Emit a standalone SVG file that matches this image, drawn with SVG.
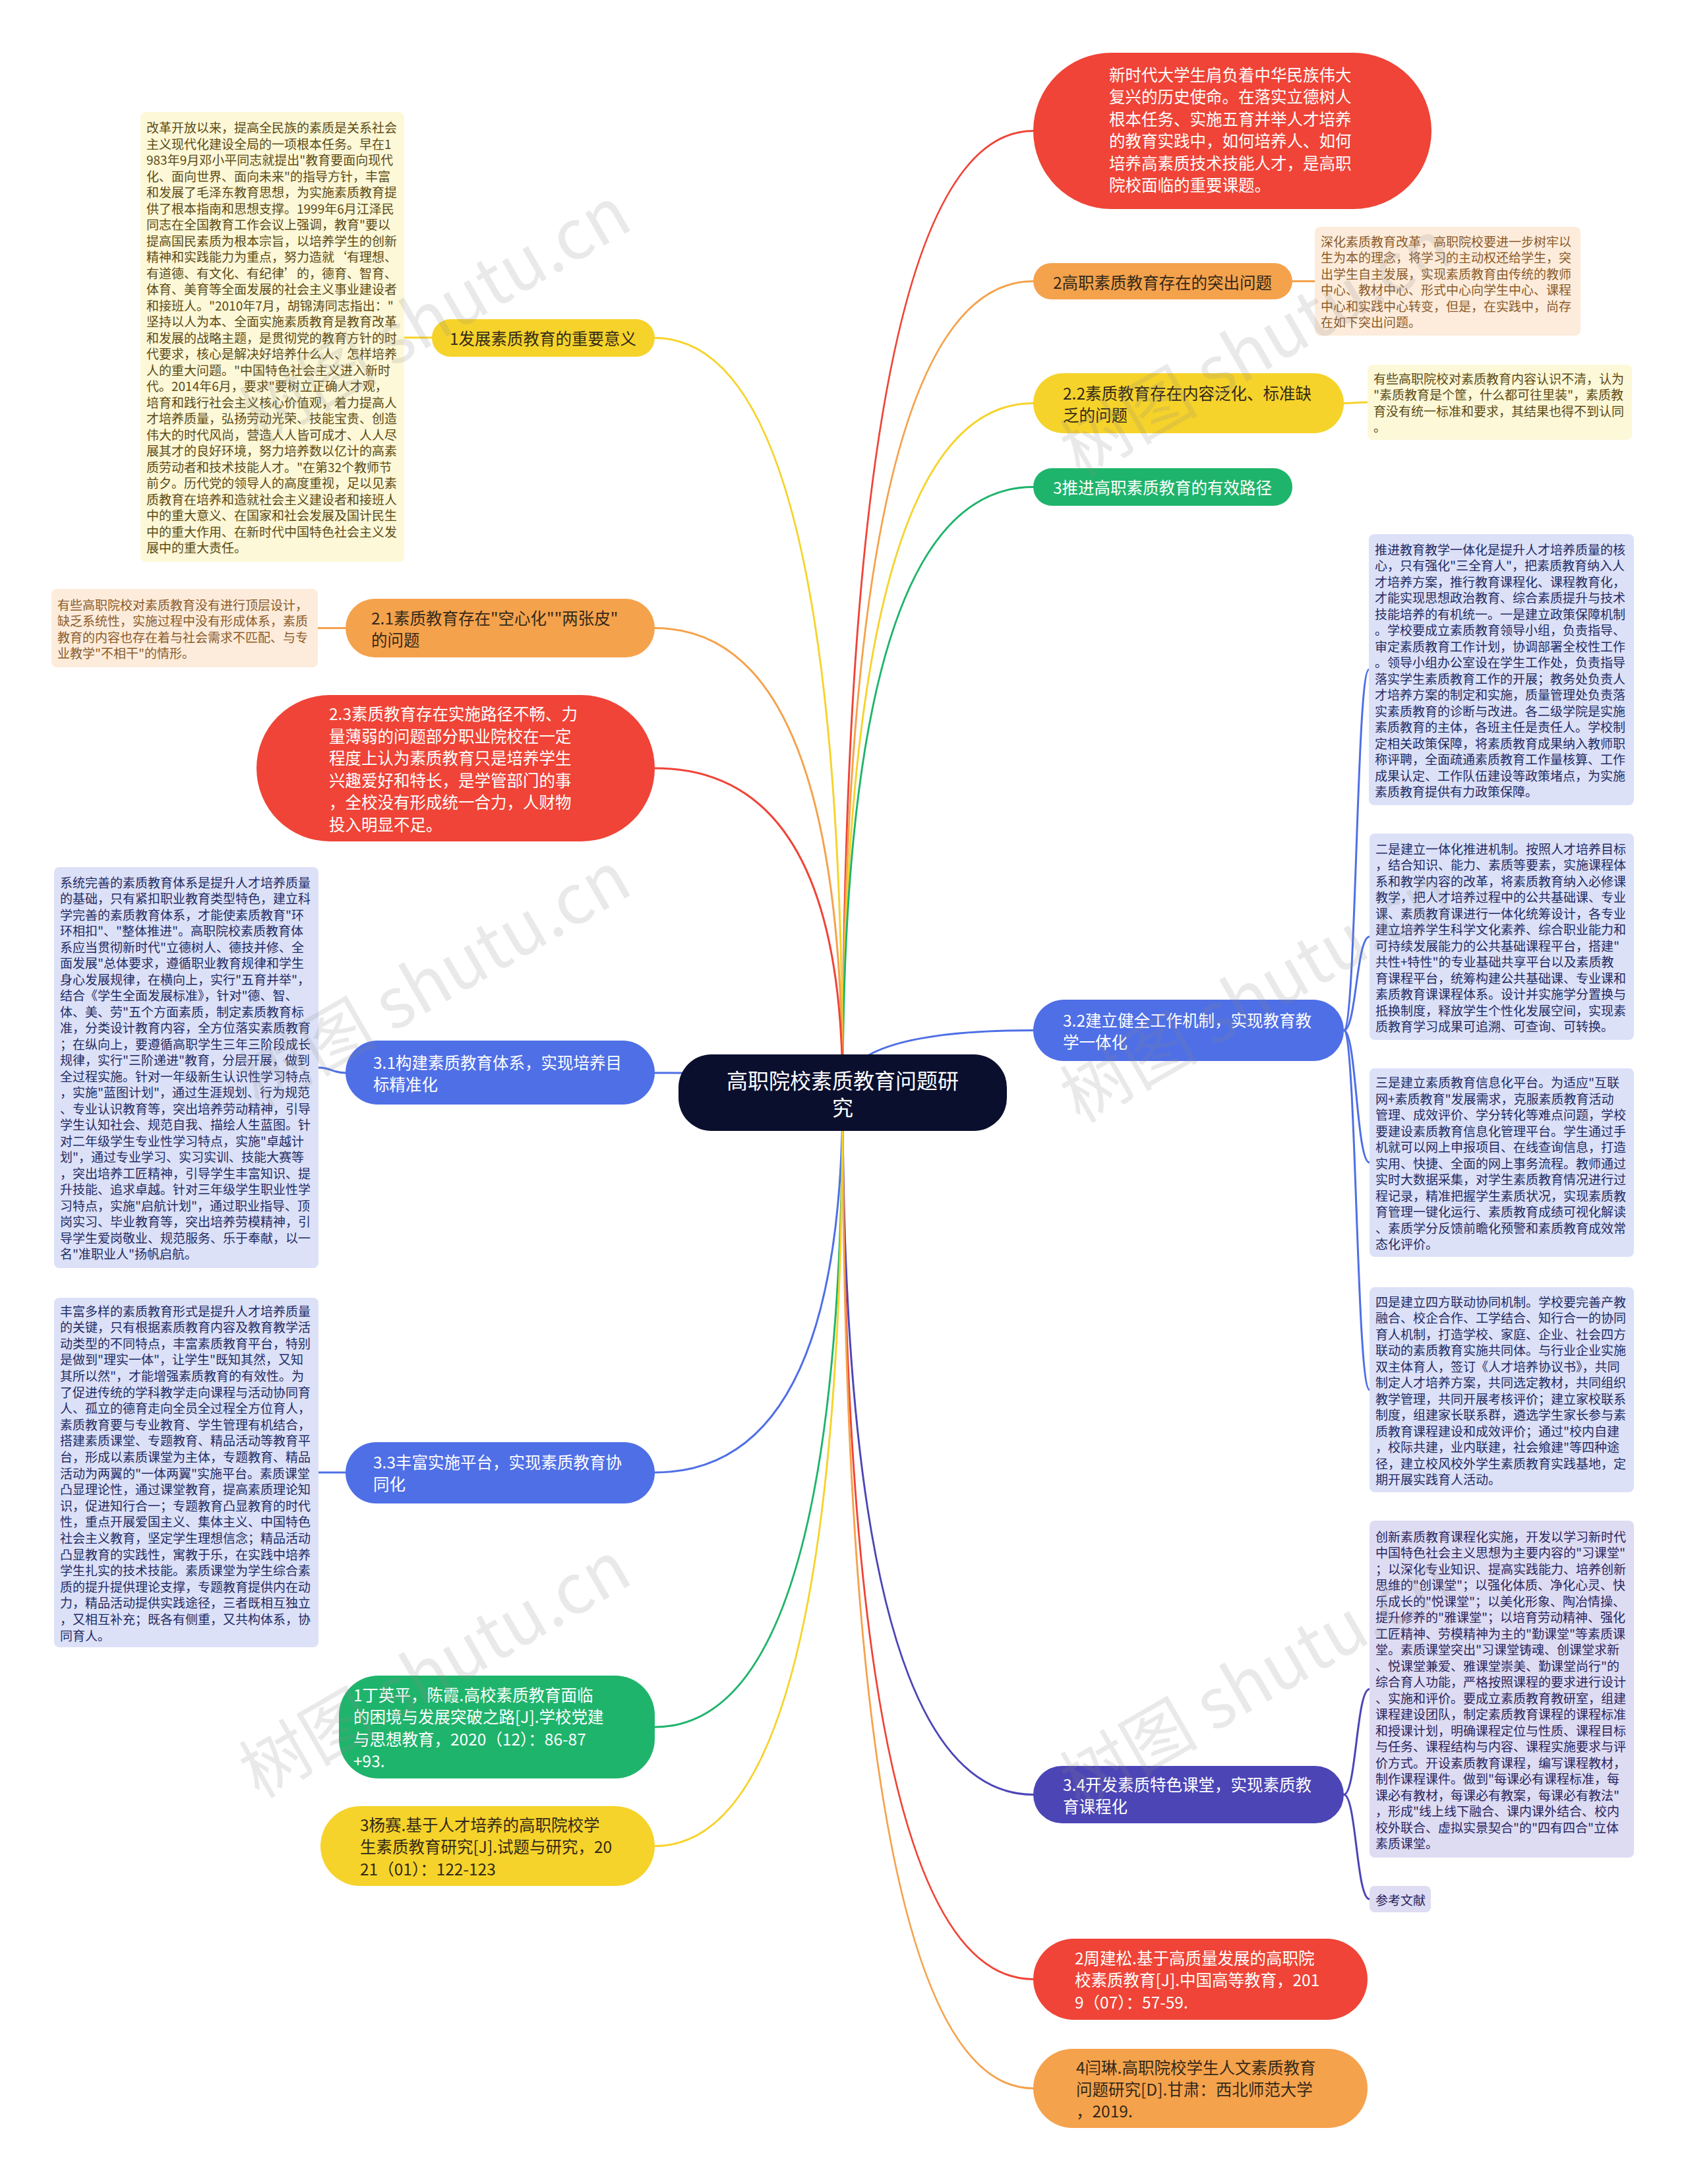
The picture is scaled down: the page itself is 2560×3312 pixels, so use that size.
<svg xmlns="http://www.w3.org/2000/svg" width="2560" height="3312" viewBox="0 0 2560 3312">
<style>
text{font-family:"Noto Sans CJK SC","Noto Sans",sans-serif;dominant-baseline:central}
.bt{font-size:19px}
.nt{font-size:24.5px}
.ct{font-size:32px;fill:#fff;text-anchor:middle}
.w{fill:#fff}
.dk{fill:#33291a}
.ty{fill:#5b4a14}
.tp{fill:#8a5a2a}
.tb{fill:#1f2a63}
.ti{fill:#29245f}
.c{fill:none;stroke-width:3;stroke-linecap:round}
.red{fill:#ef4437}.ora{fill:#f5a24c}.yel{fill:#f6d32a}.grn{fill:#1fb46c}.blu{fill:#4f6fe6}.ind{fill:#4c45b6}
.by{fill:#fdf8d8}.bp{fill:#fdecdb}.bb{fill:#dce1f8}.bi{fill:#dedcf2}
.sr{stroke:#ef4437}.so{stroke:#f5a24c}.sy{stroke:#f6d32a}.sg{stroke:#1fb46c}.sb{stroke:#4f6fe6}.si{stroke:#4c45b6}
.wm{font-size:105px;fill:#8a8a8a;opacity:0.18;font-family:"Noto Sans CJK SC",sans-serif}
</style>
<rect width="2560" height="3312" fill="#fff"/>

<g id="connectors">
<path class="c sr" d="M1278 1657 Q1278 198.5 1567 198.5"/>
<path class="c so" d="M1278 1657 Q1278 426.5 1567 426.5"/>
<path class="c sy" d="M1278 1657 Q1278 611.5 1567 611.5"/>
<path class="c sg" d="M1278 1657 Q1278 738.5 1567 738.5"/>
<path class="c sb" d="M1278 1657 Q1278 1562.5 1567 1562.5"/>
<path class="c si" d="M1278 1657 Q1278 2721.5 1567 2721.5"/>
<path class="c sr" d="M1278 1657 Q1278 3001.5 1567 3001.5"/>
<path class="c so" d="M1278 1657 Q1278 3167 1567 3167"/>
<path class="c sy" d="M1278 1657 Q1278 512.5 993 512.5"/>
<path class="c so" d="M1278 1657 Q1278 952.5 993 952.5"/>
<path class="c sr" d="M1278 1657 Q1278 1165 993 1165"/>
<path class="c sb" d="M1278 1657 Q1278 1627 993 1627"/>
<path class="c sb" d="M1278 1657 Q1278 2233 993 2233"/>
<path class="c sg" d="M1278 1657 Q1278 2619 993 2619"/>
<path class="c sy" d="M1278 1657 Q1278 2799.5 993 2799.5"/>
<path class="c sy" d="M655 512 L613 512"/>
<path class="c so" d="M524 952.5 L482 952.5"/>
<path class="c sb" d="M524 1627 C503 1627 503 1619 483 1619"/>
<path class="c sb" d="M524 2233 L483 2233"/>
<path class="c so" d="M1960 426.5 L1994 426.5"/>
<path class="c sy" d="M2038 611.5 C2056 611.5 2056 610 2074 610"/>
<path class="c sb" d="M2038 1562.5 C2057 1562.5 2057 1015.5 2076 1015.5"/>
<path class="c sb" d="M2038 1562.5 C2057 1562.5 2057 1420.5 2077 1420.5"/>
<path class="c sb" d="M2038 1562.5 C2057 1562.5 2057 1763 2077 1763"/>
<path class="c sb" d="M2038 1562.5 C2057 1562.5 2057 2107.5 2077 2107.5"/>
<path class="c si" d="M2038 2721.5 C2057 2721.5 2057 2561.5 2077 2561.5"/>
<path class="c si" d="M2038 2721.5 C2057 2721.5 2057 2880 2077 2880"/>
</g>

<g id="center">
<rect x="1029" y="1599" width="498" height="116" rx="50" fill="#0b0f2e"/>
<text class="ct" x="1278" y="1637">高职院校素质教育问题研</text>
<text class="ct" x="1278" y="1678">究</text>
</g>

<g id="node-r1">
<rect class="red" x="1567" y="80" width="604" height="237" rx="118.5"/>
<text class="nt w" x="1682" y="112">新时代大学生肩负着中华民族伟大</text>
<text class="nt w" x="1682" y="145.5">复兴的历史使命。在落实立德树人</text>
<text class="nt w" x="1682" y="179">根本任务、实施五育并举人才培养</text>
<text class="nt w" x="1682" y="212.5">的教育实践中，如何培养人、如何</text>
<text class="nt w" x="1682" y="246">培养高素质技术技能人才，是高职</text>
<text class="nt w" x="1682" y="279.5">院校面临的重要课题。</text>
</g>

<g id="node-r2">
<rect class="ora" x="1567" y="399" width="393" height="55" rx="27.5"/>
<text class="nt dk" x="1597" y="427">2高职素质教育存在的突出问题</text>
</g>
<g id="note-r2">
<rect class="bp" x="1994" y="344" width="403" height="165" rx="8"/>
<text class="bt tp" x="2003" y="365">深化素质教育改革，高职院校要进一步树牢以</text>
<text class="bt tp" x="2003" y="389.5">生为本的理念，将学习的主动权还给学生，突</text>
<text class="bt tp" x="2003" y="414">出学生自主发展，实现素质教育由传统的教师</text>
<text class="bt tp" x="2003" y="438.5">中心、教材中心、形式中心向学生中心、课程</text>
<text class="bt tp" x="2003" y="463">中心和实践中心转变，但是，在实践中，尚存</text>
<text class="bt tp" x="2003" y="487.5">在如下突出问题。</text>
</g>

<g id="node-r3">
<rect class="yel" x="1567" y="566" width="471" height="91" rx="45.5"/>
<text class="nt dk" x="1612" y="595">2.2素质教育存在内容泛化、标准缺</text>
<text class="nt dk" x="1612" y="628">乏的问题</text>
</g>
<g id="note-r3">
<rect class="by" x="2074" y="553" width="401" height="114" rx="8"/>
<text class="bt ty" x="2083" y="573">有些高职院校对素质教育内容认识不清，认为</text>
<text class="bt ty" x="2083" y="597.5">"素质教育是个筐，什么都可往里装"，素质教</text>
<text class="bt ty" x="2083" y="622">育没有统一标准和要求，其结果也得不到认同</text>
<text class="bt ty" x="2083" y="646.5">。</text>
</g>

<g id="node-r4">
<rect class="grn" x="1567" y="710" width="393" height="57" rx="28.5"/>
<text class="nt w" x="1597" y="738.5">3推进高职素质教育的有效路径</text>
</g>

<g id="node-r5">
<rect class="blu" x="1567" y="1516" width="471" height="93" rx="46.5"/>
<text class="nt w" x="1612" y="1546">3.2建立健全工作机制，实现教育教</text>
<text class="nt w" x="1612" y="1579">学一体化</text>
</g>
<g id="note-a">
<rect class="bb" x="2076" y="810" width="402" height="411" rx="8"/>
<text class="bt tb" x="2085" y="832">推进教育教学一体化是提升人才培养质量的核</text>
<text class="bt tb" x="2085" y="856.5">心，只有强化"三全育人"，把素质教育纳入人</text>
<text class="bt tb" x="2085" y="881">才培养方案，推行教育课程化、课程教育化，</text>
<text class="bt tb" x="2085" y="905.5">才能实现思想政治教育、综合素质提升与技术</text>
<text class="bt tb" x="2085" y="930">技能培养的有机统一。一是建立政策保障机制</text>
<text class="bt tb" x="2085" y="954.5">。学校要成立素质教育领导小组，负责指导、</text>
<text class="bt tb" x="2085" y="979">审定素质教育工作计划，协调部署全校性工作</text>
<text class="bt tb" x="2085" y="1003.5">。领导小组办公室设在学生工作处，负责指导</text>
<text class="bt tb" x="2085" y="1028">落实学生素质教育工作的开展；教务处负责人</text>
<text class="bt tb" x="2085" y="1052.5">才培养方案的制定和实施，质量管理处负责落</text>
<text class="bt tb" x="2085" y="1077">实素质教育的诊断与改进。各二级学院是实施</text>
<text class="bt tb" x="2085" y="1101.5">素质教育的主体，各班主任是责任人。学校制</text>
<text class="bt tb" x="2085" y="1126">定相关政策保障，将素质教育成果纳入教师职</text>
<text class="bt tb" x="2085" y="1150.5">称评聘，全面疏通素质教育工作量核算、工作</text>
<text class="bt tb" x="2085" y="1175">成果认定、工作队伍建设等政策堵点，为实施</text>
<text class="bt tb" x="2085" y="1199.5">素质教育提供有力政策保障。</text>
</g>
<g id="note-b">
<rect class="bb" x="2077" y="1264" width="401" height="313" rx="8"/>
<text class="bt tb" x="2086" y="1286">二是建立一体化推进机制。按照人才培养目标</text>
<text class="bt tb" x="2086" y="1310.5">，结合知识、能力、素质等要素，实施课程体</text>
<text class="bt tb" x="2086" y="1335">系和教学内容的改革，将素质教育纳入必修课</text>
<text class="bt tb" x="2086" y="1359.5">教学，把人才培养过程中的公共基础课、专业</text>
<text class="bt tb" x="2086" y="1384">课、素质教育课进行一体化统筹设计，各专业</text>
<text class="bt tb" x="2086" y="1408.5">建立培养学生科学文化素养、综合职业能力和</text>
<text class="bt tb" x="2086" y="1433">可持续发展能力的公共基础课程平台，搭建"</text>
<text class="bt tb" x="2086" y="1457.5">共性+特性"的专业基础共享平台以及素质教</text>
<text class="bt tb" x="2086" y="1482">育课程平台，统筹构建公共基础课、专业课和</text>
<text class="bt tb" x="2086" y="1506.5">素质教育课课程体系。设计并实施学分置换与</text>
<text class="bt tb" x="2086" y="1531">抵换制度，释放学生个性化发展空间，实现素</text>
<text class="bt tb" x="2086" y="1555.5">质教育学习成果可追溯、可查询、可转换。</text>
</g>
<g id="note-c">
<rect class="bb" x="2077" y="1620" width="401" height="286" rx="8"/>
<text class="bt tb" x="2086" y="1640.5">三是建立素质教育信息化平台。为适应"互联</text>
<text class="bt tb" x="2086" y="1665">网+素质教育"发展需求，克服素质教育活动</text>
<text class="bt tb" x="2086" y="1689.5">管理、成效评价、学分转化等难点问题，学校</text>
<text class="bt tb" x="2086" y="1714">要建设素质教育信息化管理平台。学生通过手</text>
<text class="bt tb" x="2086" y="1738.5">机就可以网上申报项目、在线查询信息，打造</text>
<text class="bt tb" x="2086" y="1763">实用、快捷、全面的网上事务流程。教师通过</text>
<text class="bt tb" x="2086" y="1787.5">实时大数据采集，对学生素质教育情况进行过</text>
<text class="bt tb" x="2086" y="1812">程记录，精准把握学生素质状况，实现素质教</text>
<text class="bt tb" x="2086" y="1836.5">育管理一键化运行、素质教育成绩可视化解读</text>
<text class="bt tb" x="2086" y="1861">、素质学分反馈前瞻化预警和素质教育成效常</text>
<text class="bt tb" x="2086" y="1885.5">态化评价。</text>
</g>
<g id="note-d">
<rect class="bb" x="2077" y="1952" width="401" height="311" rx="8"/>
<text class="bt tb" x="2086" y="1973">四是建立四方联动协同机制。学校要完善产教</text>
<text class="bt tb" x="2086" y="1997.5">融合、校企合作、工学结合、知行合一的协同</text>
<text class="bt tb" x="2086" y="2022">育人机制，打造学校、家庭、企业、社会四方</text>
<text class="bt tb" x="2086" y="2046.5">联动的素质教育实施共同体。与行业企业实施</text>
<text class="bt tb" x="2086" y="2071">双主体育人，签订《人才培养协议书》，共同</text>
<text class="bt tb" x="2086" y="2095.5">制定人才培养方案，共同选定教材，共同组织</text>
<text class="bt tb" x="2086" y="2120">教学管理，共同开展考核评价；建立家校联系</text>
<text class="bt tb" x="2086" y="2144.5">制度，组建家长联系群，遴选学生家长参与素</text>
<text class="bt tb" x="2086" y="2169">质教育课程建设和成效评价；通过"校内自建</text>
<text class="bt tb" x="2086" y="2193.5">，校际共建，业内联建，社会飨建"等四种途</text>
<text class="bt tb" x="2086" y="2218">径，建立校风校外学生素质教育实践基地，定</text>
<text class="bt tb" x="2086" y="2242.5">期开展实践育人活动。</text>
</g>

<g id="node-r6">
<rect class="ind" x="1567" y="2678" width="471" height="87" rx="43.5"/>
<text class="nt w" x="1612" y="2705">3.4开发素质特色课堂，实现素质教</text>
<text class="nt w" x="1612" y="2738">育课程化</text>
</g>
<g id="note-e">
<rect class="bi" x="2077" y="2306" width="401" height="511" rx="8"/>
<text class="bt ti" x="2086" y="2329">创新素质教育课程化实施，开发以学习新时代</text>
<text class="bt ti" x="2086" y="2353.5">中国特色社会主义思想为主要内容的"习课堂"</text>
<text class="bt ti" x="2086" y="2378">；以深化专业知识、提高实践能力、培养创新</text>
<text class="bt ti" x="2086" y="2402.5">思维的"创课堂"；以强化体质、净化心灵、快</text>
<text class="bt ti" x="2086" y="2427">乐成长的"悦课堂"；以美化形象、陶冶情操、</text>
<text class="bt ti" x="2086" y="2451.5">提升修养的"雅课堂"；以培育劳动精神、强化</text>
<text class="bt ti" x="2086" y="2476">工匠精神、劳模精神为主的"勤课堂"等素质课</text>
<text class="bt ti" x="2086" y="2500.5">堂。素质课堂突出"习课堂铸魂、创课堂求新</text>
<text class="bt ti" x="2086" y="2525">、悦课堂兼爱、雅课堂崇美、勤课堂尚行"的</text>
<text class="bt ti" x="2086" y="2549.5">综合育人功能，严格按照课程的要求进行设计</text>
<text class="bt ti" x="2086" y="2574">、实施和评价。要成立素质教育教研室，组建</text>
<text class="bt ti" x="2086" y="2598.5">课程建设团队，制定素质教育课程的课程标准</text>
<text class="bt ti" x="2086" y="2623">和授课计划，明确课程定位与性质、课程目标</text>
<text class="bt ti" x="2086" y="2647.5">与任务、课程结构与内容、课程实施要求与评</text>
<text class="bt ti" x="2086" y="2672">价方式。开设素质教育课程，编写课程教材，</text>
<text class="bt ti" x="2086" y="2696.5">制作课程课件。做到"每课必有课程标准，每</text>
<text class="bt ti" x="2086" y="2721">课必有教材，每课必有教案，每课必有教法"</text>
<text class="bt ti" x="2086" y="2745.5">，形成"线上线下融合、课内课外结合、校内</text>
<text class="bt ti" x="2086" y="2770">校外联合、虚拟实景契合"的"四有四合"立体</text>
<text class="bt ti" x="2086" y="2794.5">素质课堂。</text>
</g>
<g id="note-ref">
<rect class="bi" x="2077" y="2860" width="93" height="40" rx="8"/>
<text class="bt ti" x="2086" y="2880">参考文献</text>
</g>

<g id="node-r7">
<rect class="red" x="1567" y="2940" width="507" height="123" rx="61.5"/>
<text class="nt w" x="1630" y="2968">2周建松.基于高质量发展的高职院</text>
<text class="nt w" x="1630" y="3001.5">校素质教育[J].中国高等教育，201</text>
<text class="nt w" x="1630" y="3035">9（07）：57-59.</text>
</g>
<g id="node-r8">
<rect class="ora" x="1567" y="3107" width="507" height="120" rx="60"/>
<text class="nt dk" x="1632" y="3134">4闫琳.高职院校学生人文素质教育</text>
<text class="nt dk" x="1632" y="3167">问题研究[D].甘肃：西北师范大学</text>
<text class="nt dk" x="1632" y="3200">，2019.</text>
</g>

<g id="node-l1">
<rect class="yel" x="655" y="484" width="338" height="57" rx="28.5"/>
<text class="nt dk" x="682" y="512.5">1发展素质教育的重要意义</text>
</g>
<g id="note-l1">
<rect class="by" x="213" y="170" width="400" height="682" rx="8"/>
<text class="bt ty" x="222" y="192.5">改革开放以来，提高全民族的素质是关系社会</text>
<text class="bt ty" x="222" y="217">主义现代化建设全局的一项根本任务。早在1</text>
<text class="bt ty" x="222" y="241.5">983年9月邓小平同志就提出"教育要面向现代</text>
<text class="bt ty" x="222" y="266">化、面向世界、面向未来"的指导方针，丰富</text>
<text class="bt ty" x="222" y="290.5">和发展了毛泽东教育思想，为实施素质教育提</text>
<text class="bt ty" x="222" y="315">供了根本指南和思想支撑。1999年6月江泽民</text>
<text class="bt ty" x="222" y="339.5">同志在全国教育工作会议上强调，教育"要以</text>
<text class="bt ty" x="222" y="364">提高国民素质为根本宗旨，以培养学生的创新</text>
<text class="bt ty" x="222" y="388.5">精神和实践能力为重点，努力造就‘有理想、</text>
<text class="bt ty" x="222" y="413">有道德、有文化、有纪律’的，德育、智育、</text>
<text class="bt ty" x="222" y="437.5">体育、美育等全面发展的社会主义事业建设者</text>
<text class="bt ty" x="222" y="462">和接班人。"2010年7月，胡锦涛同志指出："</text>
<text class="bt ty" x="222" y="486.5">坚持以人为本、全面实施素质教育是教育改革</text>
<text class="bt ty" x="222" y="511">和发展的战略主题，是贯彻党的教育方针的时</text>
<text class="bt ty" x="222" y="535.5">代要求，核心是解决好培养什么人、怎样培养</text>
<text class="bt ty" x="222" y="560">人的重大问题。"中国特色社会主义进入新时</text>
<text class="bt ty" x="222" y="584.5">代。2014年6月，要求"要树立正确人才观，</text>
<text class="bt ty" x="222" y="609">培育和践行社会主义核心价值观，着力提高人</text>
<text class="bt ty" x="222" y="633.5">才培养质量，弘扬劳动光荣、技能宝贵、创造</text>
<text class="bt ty" x="222" y="658">伟大的时代风尚，营造人人皆可成才、人人尽</text>
<text class="bt ty" x="222" y="682.5">展其才的良好环境，努力培养数以亿计的高素</text>
<text class="bt ty" x="222" y="707">质劳动者和技术技能人才。"在第32个教师节</text>
<text class="bt ty" x="222" y="731.5">前夕。历代党的领导人的高度重视，足以见素</text>
<text class="bt ty" x="222" y="756">质教育在培养和造就社会主义建设者和接班人</text>
<text class="bt ty" x="222" y="780.5">中的重大意义、在国家和社会发展及国计民生</text>
<text class="bt ty" x="222" y="805">中的重大作用、在新时代中国特色社会主义发</text>
<text class="bt ty" x="222" y="829.5">展中的重大责任。</text>
</g>

<g id="node-l2">
<rect class="ora" x="524" y="908" width="469" height="89" rx="44.5"/>
<text class="nt dk" x="563" y="936">2.1素质教育存在"空心化""两张皮"</text>
<text class="nt dk" x="563" y="969">的问题</text>
</g>
<g id="note-l2">
<rect class="bp" x="78" y="893" width="404" height="119" rx="8"/>
<text class="bt tp" x="87" y="916">有些高职院校对素质教育没有进行顶层设计，</text>
<text class="bt tp" x="87" y="940.5">缺乏系统性，实施过程中没有形成体系，素质</text>
<text class="bt tp" x="87" y="965">教育的内容也存在着与社会需求不匹配、与专</text>
<text class="bt tp" x="87" y="989.5">业教学"不相干"的情形。</text>
</g>

<g id="node-l3">
<rect class="red" x="389" y="1054" width="604" height="222" rx="111"/>
<text class="nt w" x="499" y="1081.5">2.3素质教育存在实施路径不畅、力</text>
<text class="nt w" x="499" y="1115">量薄弱的问题部分职业院校在一定</text>
<text class="nt w" x="499" y="1148.5">程度上认为素质教育只是培养学生</text>
<text class="nt w" x="499" y="1182">兴趣爱好和特长，是学管部门的事</text>
<text class="nt w" x="499" y="1215.5">，全校没有形成统一合力，人财物</text>
<text class="nt w" x="499" y="1249">投入明显不足。</text>
</g>

<g id="node-l4">
<rect class="blu" x="524" y="1578" width="469" height="97" rx="48.5"/>
<text class="nt w" x="566" y="1610">3.1构建素质教育体系，实现培养目</text>
<text class="nt w" x="566" y="1643">标精准化</text>
</g>
<g id="note-l4">
<rect class="bb" x="82" y="1315" width="401" height="608" rx="8"/>
<text class="bt tb" x="91" y="1337">系统完善的素质教育体系是提升人才培养质量</text>
<text class="bt tb" x="91" y="1361.5">的基础，只有紧扣职业教育类型特色，建立科</text>
<text class="bt tb" x="91" y="1386">学完善的素质教育体系，才能使素质教育"环</text>
<text class="bt tb" x="91" y="1410.5">环相扣"、"整体推进"。高职院校素质教育体</text>
<text class="bt tb" x="91" y="1435">系应当贯彻新时代"立德树人、德技并修、全</text>
<text class="bt tb" x="91" y="1459.5">面发展"总体要求，遵循职业教育规律和学生</text>
<text class="bt tb" x="91" y="1484">身心发展规律，在横向上，实行"五育并举"，</text>
<text class="bt tb" x="91" y="1508.5">结合《学生全面发展标准》，针对"德、智、</text>
<text class="bt tb" x="91" y="1533">体、美、劳"五个方面素质，制定素质教育标</text>
<text class="bt tb" x="91" y="1557.5">准，分类设计教育内容，全方位落实素质教育</text>
<text class="bt tb" x="91" y="1582">；在纵向上，要遵循高职学生三年三阶段成长</text>
<text class="bt tb" x="91" y="1606.5">规律，实行"三阶递进"教育，分层开展，做到</text>
<text class="bt tb" x="91" y="1631">全过程实施。针对一年级新生认识性学习特点</text>
<text class="bt tb" x="91" y="1655.5">，实施"蓝图计划"，通过生涯规划、行为规范</text>
<text class="bt tb" x="91" y="1680">、专业认识教育等，突出培养劳动精神，引导</text>
<text class="bt tb" x="91" y="1704.5">学生认知社会、规范自我、描绘人生蓝图。针</text>
<text class="bt tb" x="91" y="1729">对二年级学生专业性学习特点，实施"卓越计</text>
<text class="bt tb" x="91" y="1753.5">划"，通过专业学习、实习实训、技能大赛等</text>
<text class="bt tb" x="91" y="1778">，突出培养工匠精神，引导学生丰富知识、提</text>
<text class="bt tb" x="91" y="1802.5">升技能、追求卓越。针对三年级学生职业性学</text>
<text class="bt tb" x="91" y="1827">习特点，实施"启航计划"，通过职业指导、顶</text>
<text class="bt tb" x="91" y="1851.5">岗实习、毕业教育等，突出培养劳模精神，引</text>
<text class="bt tb" x="91" y="1876">导学生爱岗敬业、规范服务、乐于奉献，以一</text>
<text class="bt tb" x="91" y="1900.5">名"准职业人"扬帆启航。</text>
</g>

<g id="node-l5">
<rect class="blu" x="524" y="2187" width="469" height="93" rx="46.5"/>
<text class="nt w" x="566" y="2216.5">3.3丰富实施平台，实现素质教育协</text>
<text class="nt w" x="566" y="2249.5">同化</text>
</g>
<g id="note-l5">
<rect class="bb" x="82" y="1968" width="401" height="530" rx="8"/>
<text class="bt tb" x="91" y="1987">丰富多样的素质教育形式是提升人才培养质量</text>
<text class="bt tb" x="91" y="2011.6">的关键，只有根据素质教育内容及教育教学活</text>
<text class="bt tb" x="91" y="2036.2">动类型的不同特点，丰富素质教育平台，特别</text>
<text class="bt tb" x="91" y="2060.8">是做到"理实一体"，让学生"既知其然，又知</text>
<text class="bt tb" x="91" y="2085.4">其所以然"，才能增强素质教育的有效性。为</text>
<text class="bt tb" x="91" y="2110">了促进传统的学科教学走向课程与活动协同育</text>
<text class="bt tb" x="91" y="2134.6">人、孤立的德育走向全员全过程全方位育人，</text>
<text class="bt tb" x="91" y="2159.2">素质教育要与专业教育、学生管理有机结合，</text>
<text class="bt tb" x="91" y="2183.8">搭建素质课堂、专题教育、精品活动等教育平</text>
<text class="bt tb" x="91" y="2208.4">台，形成以素质课堂为主体，专题教育、精品</text>
<text class="bt tb" x="91" y="2233">活动为两翼的"一体两翼"实施平台。素质课堂</text>
<text class="bt tb" x="91" y="2257.6">凸显理论性，通过课堂教育，提高素质理论知</text>
<text class="bt tb" x="91" y="2282.2">识，促进知行合一；专题教育凸显教育的时代</text>
<text class="bt tb" x="91" y="2306.8">性，重点开展爱国主义、集体主义、中国特色</text>
<text class="bt tb" x="91" y="2331.4">社会主义教育，坚定学生理想信念；精品活动</text>
<text class="bt tb" x="91" y="2356">凸显教育的实践性，寓教于乐，在实践中培养</text>
<text class="bt tb" x="91" y="2380.6">学生扎实的技术技能。素质课堂为学生综合素</text>
<text class="bt tb" x="91" y="2405.2">质的提升提供理论支撑，专题教育提供内在动</text>
<text class="bt tb" x="91" y="2429.8">力，精品活动提供实践途径，三者既相互独立</text>
<text class="bt tb" x="91" y="2454.4">，又相互补充；既各有侧重，又共构体系，协</text>
<text class="bt tb" x="91" y="2479">同育人。</text>
</g>

<g id="node-l6">
<rect class="grn" x="514" y="2541" width="479" height="156" rx="60"/>
<text class="nt w" x="536" y="2569">1丁英平，陈霞.高校素质教育面临</text>
<text class="nt w" x="536" y="2602.5">的困境与发展突破之路[J].学校党建</text>
<text class="nt w" x="536" y="2636">与思想教育，2020（12）：86-87</text>
<text class="nt w" x="536" y="2669.5">+93.</text>
</g>
<g id="node-l7">
<rect class="yel" x="486" y="2739" width="507" height="121" rx="60.5"/>
<text class="nt dk" x="546" y="2766">3杨赛.基于人才培养的高职院校学</text>
<text class="nt dk" x="546" y="2799.5">生素质教育研究[J].试题与研究，20</text>
<text class="nt dk" x="546" y="2833">21（01）：122-123</text>
</g>

<g id="watermarks">
<text class="wm" text-anchor="middle" transform="translate(655 470) rotate(-30)">树图 shutu.cn</text>
<text class="wm" text-anchor="middle" transform="translate(655 1478) rotate(-30)">树图 shutu.cn</text>
<text class="wm" text-anchor="middle" transform="translate(655 2524) rotate(-30)">树图 shutu.cn</text>
<text class="wm" text-anchor="middle" transform="translate(1900 520) rotate(-30)">树图 shutu.cn</text>
<text class="wm" text-anchor="middle" transform="translate(1900 1500) rotate(-30)">树图 shutu.cn</text>
<text class="wm" text-anchor="middle" transform="translate(1900 2540) rotate(-30)">树图 shutu.cn</text>
</g>
</svg>
